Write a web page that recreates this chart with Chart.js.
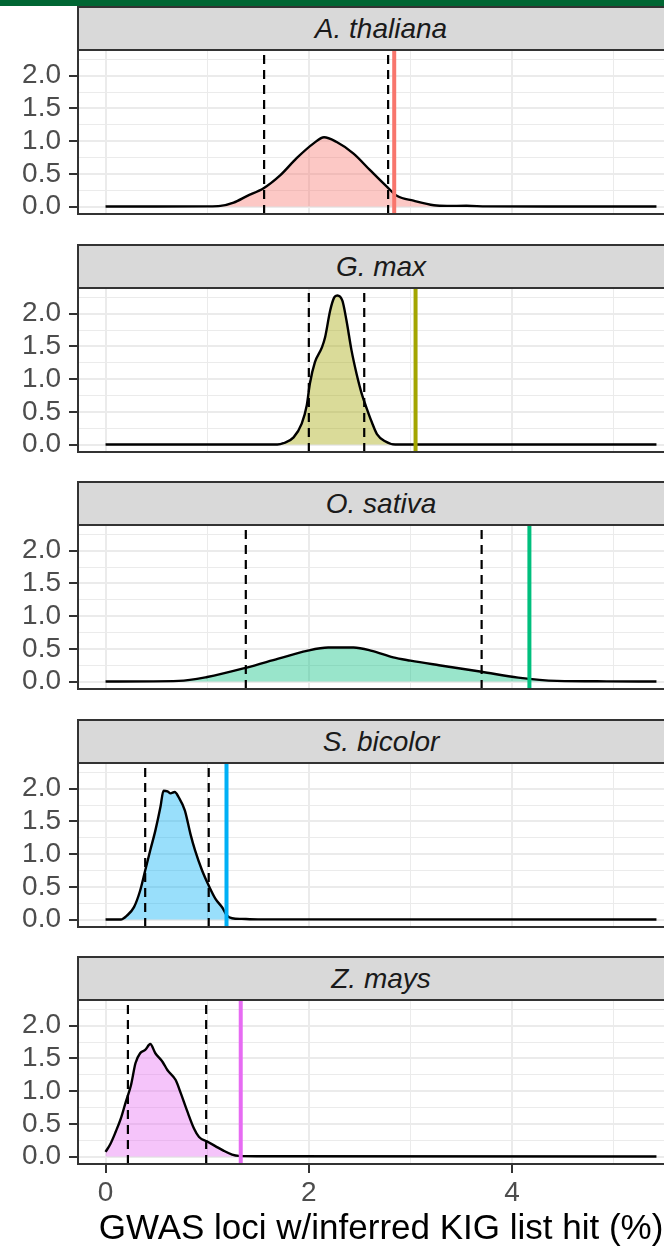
<!DOCTYPE html>
<html>
<head>
<meta charset="utf-8">
<script src="https://cdn.jsdelivr.net/npm/chart.js@4.4.0/dist/chart.umd.min.js"></script>
<style>
    html, body { margin: 0; padding: 0; background: #fff; width: 664px; height: 1249px; overflow: hidden; }
    #wrap { position: relative; width: 700px; height: 1249px; }
    .topbar { position: absolute; left: 0; top: 0; width: 700px; height: 6px; background: #006633; }
    .strip {
        position: absolute; left: 77px; width: 608px; height: 45px; box-sizing: border-box;
        background: #d9d9d9; border: 2px solid #333;
        font: italic 28px "Liberation Sans", Arial, sans-serif; color: #1a1a1a;
        text-align: center; line-height: 41px;
    }
    .box { position: absolute; left: 0; width: 700px; }
    .box canvas { display: block; }
</style>
</head>
<body>
<div id="wrap">
    <div class="topbar"></div>
</div>
<script>
// facets
const species = ["A. thaliana", "G. max", "O. sativa", "S. bicolor", "Z. mays"];
const hueColors = ["#F8766D", "#A3A500", "#00BF7D", "#00B0F6", "#E76BF3"];
const fillColors = ["rgba(248,118,109,0.4)", "rgba(163,165,0,0.4)", "rgba(0,191,125,0.4)", "rgba(0,176,246,0.4)", "rgba(231,107,243,0.4)"];

// observed value (coloured line) and 95% interval of the null (dashed lines)
const observed = [2.84, 3.05, 4.17, 1.19, 1.33];
const ciLow = [1.56, 2.00, 1.38, 0.39, 0.22];
const ciHigh = [2.78, 2.545, 3.70, 1.015, 0.99];

// density curves
const athX = [0, 0.5, 1.0, 1.13, 1.26, 1.39, 1.555, 1.72, 1.88, 2.05, 2.15, 2.27, 2.44, 2.60, 2.77, 2.87, 3.03, 3.23, 3.36, 3.55, 3.75, 4.5, 5.42];
const athY = [0, 0, 0.003, 0.01, 0.06, 0.16, 0.28, 0.48, 0.74, 0.97, 1.06, 0.99, 0.81, 0.56, 0.30, 0.16, 0.09, 0.02, 0.01, 0.012, 0.002, 0, 0];

const gmaX = [0, 1.0, 1.69, 1.75, 1.85, 1.93, 1.98, 2.01, 2.06, 2.13, 2.16, 2.21, 2.25, 2.28, 2.33, 2.37, 2.42, 2.47, 2.52, 2.57, 2.62, 2.67, 2.75, 2.85, 3.5, 5.42];
const gmaY = [0, 0, 0, 0.02, 0.11, 0.32, 0.60, 0.93, 1.26, 1.49, 1.64, 2.05, 2.25, 2.28, 2.20, 1.90, 1.44, 1.08, 0.78, 0.55, 0.34, 0.16, 0.05, 0, 0, 0];

const osaX = [0, 0.72, 1.0, 1.38, 1.70, 1.98, 2.19, 2.44, 2.62, 2.83, 3.00, 3.28, 3.70, 4.06, 4.44, 4.93, 5.42];
const osaY = [0, 0.01, 0.07, 0.21, 0.35, 0.47, 0.52, 0.52, 0.47, 0.37, 0.32, 0.25, 0.15, 0.06, 0.01, 0.003, 0];

const sbiX = [0, 0.15, 0.21, 0.28, 0.34, 0.39, 0.44, 0.49, 0.54, 0.57, 0.61, 0.64, 0.68, 0.72, 0.78, 0.835, 0.88, 0.95, 1.015, 1.08, 1.15, 1.195, 1.245, 1.34, 1.5, 5.42];
const sbiY = [0, 0, 0.06, 0.19, 0.44, 0.75, 1.06, 1.36, 1.72, 1.97, 1.96, 1.93, 1.95, 1.87, 1.67, 1.31, 1.06, 0.75, 0.52, 0.32, 0.18, 0.06, 0.02, 0.01, 0.003, 0];

const zmaX = [0, 0.05, 0.10, 0.15, 0.20, 0.25, 0.295, 0.34, 0.39, 0.44, 0.49, 0.56, 0.61, 0.69, 0.74, 0.80, 0.87, 0.92, 1.00, 1.08, 1.16, 1.245, 1.31, 1.5, 5.42];
const zmaY = [0.07, 0.20, 0.38, 0.58, 0.84, 1.09, 1.43, 1.58, 1.63, 1.72, 1.58, 1.45, 1.32, 1.17, 0.97, 0.71, 0.43, 0.30, 0.23, 0.16, 0.09, 0.03, 0.01, 0.005, 0];

const densX = [athX, gmaX, osaX, sbiX, zmaX];
const densY = [athY, gmaY, osaY, sbiY, zmaY];

// axes
const xMin = -0.271, xMax = 5.691;
const yMin = -0.114, yMax = 2.394;
const xTicks = [0, 1, 2, 3, 4, 5];
const xLabels = ["0", "", "2", "", "4", ""];
const yTicks = [0, 0.25, 0.5, 0.75, 1, 1.25, 1.5, 1.75, 2, 2.25];
const yLabels = ["0.0", "", "0.5", "", "1.0", "", "1.5", "", "2.0", ""];
const xTitle = "GWAS loci w/inferred KIG list hit (%)";

const FONT = '"Liberation Sans", Arial, sans-serif';

function isMajor(list, v) {
    const i = list.indexOf(v);
    return i >= 0 && (list === xTicks ? xLabels[i] !== "" : yLabels[i] !== "");
}

// panel border like theme_bw
const panelBorder = {
    id: "panelBorder",
    afterDatasetsDraw(chart) {
        const a = chart.chartArea;
        const ctx = chart.ctx;
        ctx.save();
        ctx.strokeStyle = "#333333";
        ctx.lineWidth = 2;
        ctx.strokeRect(a.left, a.top, a.right - a.left, a.bottom - a.top);
        ctx.restore();
    }
};

function makePanel(i) {
    const wrap = document.getElementById("wrap");
    const last = i === species.length - 1;
    const plotTop = Math.round(50 + 237.5 * i);

    const strip = document.createElement("div");
    strip.className = "strip";
    strip.style.top = (plotTop - 44) + "px";
    strip.textContent = species[i];
    wrap.appendChild(strip);

    const box = document.createElement("div");
    box.className = "box";
    const top = plotTop - 3;
    const h = last ? 1249 - top : 170;
    box.style.top = top + "px";
    box.style.height = h + "px";
    const canvas = document.createElement("canvas");
    canvas.width = 700;
    canvas.height = h;
    box.appendChild(canvas);
    wrap.insertBefore(box, strip);

    let dens = [];
    for (let j = 0; j < densX[i].length; j++) {
        dens.push({ x: densX[i][j], y: densY[i][j] });
    }

    new Chart(canvas, {
        type: "line",
        data: {
            datasets: [
                {
                    data: [{ x: observed[i], y: yMin }, { x: observed[i], y: yMax }],
                    borderColor: hueColors[i], borderWidth: 4, pointRadius: 0, order: 1
                },
                {
                    data: [{ x: ciLow[i], y: yMin }, { x: ciLow[i], y: yMax }],
                    borderColor: "#000", borderWidth: 2.2, borderDash: [9, 6], pointRadius: 0, order: 2
                },
                {
                    data: [{ x: ciHigh[i], y: yMin }, { x: ciHigh[i], y: yMax }],
                    borderColor: "#000", borderWidth: 2.2, borderDash: [9, 6], pointRadius: 0, order: 2
                },
                {
                    data: dens,
                    borderColor: "#000", borderWidth: 2.4, pointRadius: 0,
                    backgroundColor: fillColors[i], fill: "origin",
                    cubicInterpolationMode: "monotone", order: 3
                }
            ]
        },
        options: {
            responsive: false,
            animation: false,
            layout: { padding: { left: 0, right: 16, top: 3, bottom: last ? 0 : 3 } },
            plugins: { legend: { display: false }, tooltip: { enabled: false } },
            scales: {
                x: {
                    type: "linear", min: xMin, max: xMax,
                    afterBuildTicks: (s) => { s.ticks = xTicks.map(v => ({ value: v })); },
                    afterFit: (s) => {
                        s.height = last ? 85 : 0;
                        s.paddingLeft = 0;
                        s.paddingRight = 0;
                    },
                    border: { display: false },
                    grid: {
                        color: "#ebebeb",
                        lineWidth: (c) => isMajor(xTicks, c.tick.value) ? 2 : 1,
                        drawTicks: last,
                        tickLength: 9,
                        tickWidth: 2,
                        tickColor: (c) => isMajor(xTicks, c.tick.value) ? "#333333" : "rgba(0,0,0,0)"
                    },
                    ticks: {
                        display: last, autoSkip: false, maxRotation: 0,
                        padding: 3, color: "#4d4d4d",
                        font: { family: FONT, size: 28 },
                        callback: (v, k) => xLabels[k]
                    },
                    title: {
                        display: last, text: xTitle, color: "#000",
                        font: { family: FONT, size: 35, lineHeight: 1.1 },
                        padding: { top: 0, bottom: 0 }
                    }
                },
                y: {
                    min: yMin, max: yMax,
                    afterBuildTicks: (s) => { s.ticks = yTicks.map(v => ({ value: v })); },
                    afterFit: (s) => {
                        s.width = 78;
                        s.paddingTop = 0;
                        s.paddingBottom = 0;
                    },
                    border: { display: false },
                    grid: {
                        color: "#ebebeb",
                        lineWidth: (c) => isMajor(yTicks, c.tick.value) ? 2 : 1,
                        tickLength: 9,
                        tickWidth: 2,
                        tickColor: (c) => isMajor(yTicks, c.tick.value) ? "#333333" : "rgba(0,0,0,0)"
                    },
                    ticks: {
                        autoSkip: false, padding: 8, color: "#4d4d4d",
                        font: { family: FONT, size: 28, lineHeight: 1 },
                        callback: (v, k) => yLabels[k]
                    }
                }
            }
        },
        plugins: [panelBorder]
    });
}

document.addEventListener("DOMContentLoaded", function () {
    for (let i = 0; i < species.length; i++) {
        makePanel(i);
    }
});
</script>
</body>
</html>
